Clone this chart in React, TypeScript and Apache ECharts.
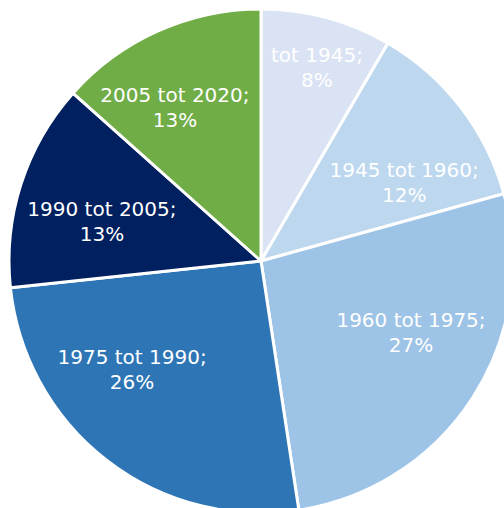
import React, { useEffect, useRef } from "react";
import * as echarts from "echarts";

// Data
const categories = ["tot 1945", "1945 tot 1960", "1960 tot 1975", "1975 tot 1990", "1990 tot 2005", "2005 tot 2020"];
const shares = [8.4, 12.3, 26.9, 25.7, 13.3, 13.4];

// Styles
const colors = ["#DAE3F3", "#BDD7EE", "#9DC3E6", "#2E75B6", "#002060", "#70AD47"];
const CENTER: [number, number] = [261, 261];
const RADIUS = 252;
// label placement as [fraction of radius, angle clockwise from top in degrees]
const labelPlacement: [number, number][] = [
  [0.8, 16.1],
  [0.647, 61.4],
  [0.66, 115.6],
  [0.67, 229.8],
  [0.65, 283.8],
  [0.7, 330.8],
];

export default function App() {
  const ref = useRef<HTMLDivElement>(null);
  useEffect(() => {
    if (!ref.current) return;
    const chart = echarts.init(ref.current, null, { renderer: "svg" });
    chart.setOption({
      animation: false,
      series: [
        {
          type: "pie",
          center: CENTER,
          radius: RADIUS,
          startAngle: 90,
          clockwise: true,
          silent: true,
          emphasis: { disabled: true },
          itemStyle: { borderColor: "#ffffff", borderWidth: 3 },
          label: {
            show: true,
            position: "inside",
            color: "#ffffff",
            fontFamily: "DejaVu Sans",
            fontSize: 20,
            lineHeight: 25,
            align: "center",
            verticalAlign: "middle",
            formatter: (p: any) => `${p.name};\n${Math.round(p.value)}%`,
          },
          labelLine: { show: false },
          labelLayout: (params: any) => {
            const [f, a] = labelPlacement[params.dataIndex];
            const rad = (a * Math.PI) / 180;
            return {
              x: CENTER[0] + f * RADIUS * Math.sin(rad),
              y: CENTER[1] - f * RADIUS * Math.cos(rad),
              align: "center",
              verticalAlign: "middle",
            };
          },
          data: categories.map((c, i) => ({
            name: c,
            value: shares[i],
            itemStyle: { color: colors[i] },
          })),
        },
      ],
    });
    return () => chart.dispose();
  }, []);
  return (
    <div
      ref={ref}
      style={{ position: "absolute", left: 0, top: 0, width: 504, height: 508, background: "#ffffff" }}
    />
  );
}
